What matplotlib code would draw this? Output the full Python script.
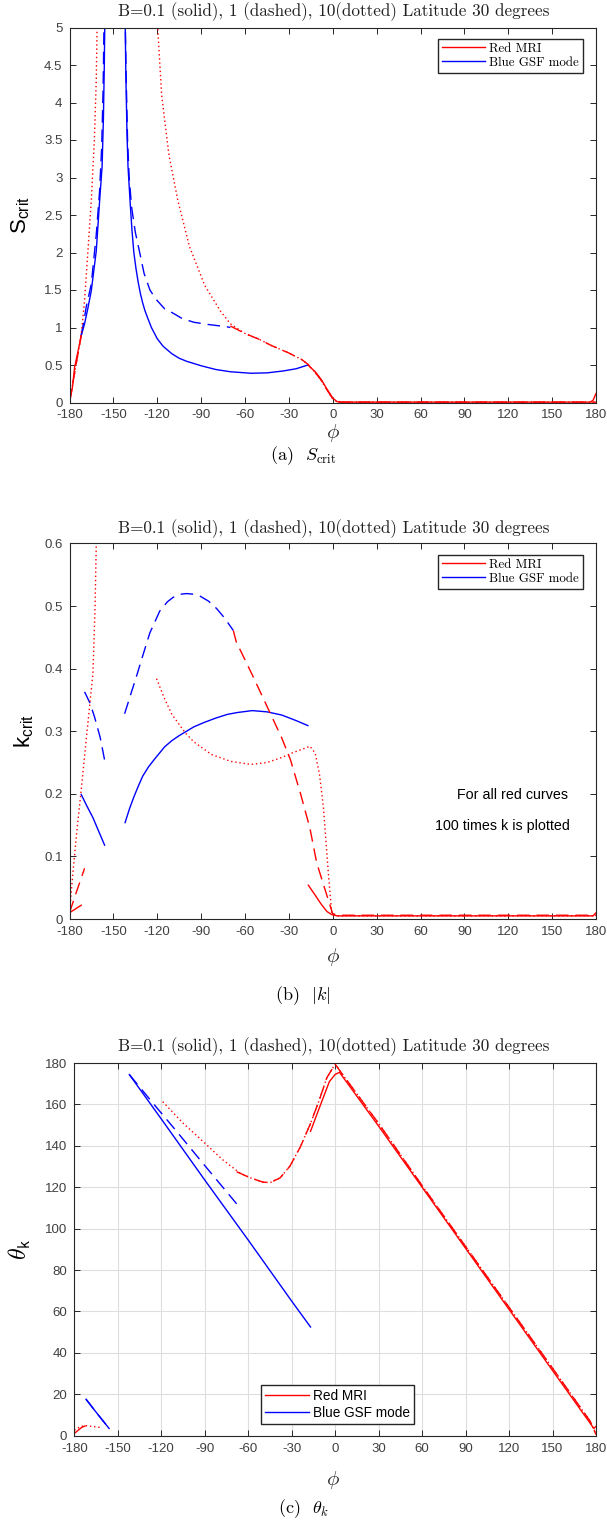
import matplotlib
matplotlib.use("Agg")
import matplotlib.pyplot as plt
import numpy as np

plt.rcParams['mathtext.fontset'] = 'cm'
plt.rcParams['mathtext.rm'] = 'Liberation Sans'
plt.rcParams['mathtext.it'] = 'Liberation Sans:italic'
plt.rcParams['mathtext.sf'] = 'Liberation Sans'

# ---------------- panel (a): S_crit ----------------
s_red_solid_a_phi = [-180, -178, -176.5, -174, -172]
s_red_solid_a_val = [0.0, 0.2, 0.47, 0.7, 0.88]
s_red_solid_b_phi = [-17, -12, -8, -4, 0, 3, 6, 60, 120, 176, 178, 180]
s_red_solid_b_val = [0.5, 0.41, 0.31, 0.18, 0.06, 0.01, 0.005, 0.005, 0.005, 0.005, 0.03, 0.12]
s_blue_solid_a_phi = [-172, -169.7, -167.5, -165.1, -161.7, -159.4, -157.7, -156.8, -156.2, -155.8]
s_blue_solid_a_val = [0.89, 1.05, 1.25, 1.49, 2.02, 2.69, 3.15, 3.8, 4.5, 5.2]
s_blue_solid_b_phi = [-142, -141.5, -140.7, -140, -138.6, -137.3, -136, -134.5, -133, -131.5,
                      -130, -128.5, -127, -124, -120, -116, -110, -105, -100, -90, -80, -70,
                      -56, -45, -34, -25, -17]
s_blue_solid_b_val = [5.2, 4.4, 3.6, 3.15, 2.69, 2.3, 2.0, 1.78, 1.6, 1.45,
                      1.33, 1.23, 1.15, 1.0, 0.85, 0.75, 0.65, 0.59, 0.55, 0.49, 0.44, 0.41,
                      0.39, 0.395, 0.42, 0.45, 0.5]
s_blue_dash_a_phi = [-172, -170, -168.6, -165.1, -161.7, -159.5, -158, -157, -156.3]
s_blue_dash_a_val = [0.9, 1.1, 1.27, 1.58, 2.24, 2.8, 3.4, 4.2, 5.2]
s_blue_dash_b_phi = [-142, -141.2, -140.3, -139.2, -137.5, -135, -132, -129, -125, -121, -115,
                     -110, -103, -95, -85, -72.6, -70]
s_blue_dash_b_val = [5.2, 4.3, 3.5, 3.0, 2.6, 2.27, 2.0, 1.72, 1.5, 1.38, 1.25,
                     1.2, 1.12, 1.07, 1.04, 1.01, 1.0]
s_red_dash_a_phi = [-180, -176, -172]
s_red_dash_a_val = [0.0, 0.45, 0.9]
s_red_dash_b_phi = [-70, -65, -60, -50, -42, -30, -21, -17, -12, -8, -4, 0, 3, 6, 180]
s_red_dash_b_val = [1.02, 0.97, 0.92, 0.84, 0.76, 0.66, 0.57, 0.51, 0.4, 0.3, 0.17, 0.05, 0.01, 0.005, 0.005]
s_red_dot_a_phi = [-180, -176, -172, -169.7, -167.4, -165.1, -163, -161.7, -161]
s_red_dot_a_val = [0.0, 0.45, 0.9, 1.36, 2.02, 2.69, 3.5, 4.3, 5.2]
s_red_dot_b_phi = [-120.3, -117, -112, -106, -98, -87.5, -76.5, -70, -60, -50, -42, -30, -21,
                   -17, -12, -8, -4, 0, 3, 6, 180]
s_red_dot_b_val = [5.2, 4.1, 3.3, 2.7, 2.08, 1.56, 1.21, 1.05, 0.92, 0.84, 0.76, 0.66, 0.57,
                   0.51, 0.4, 0.3, 0.17, 0.05, 0.01, 0.005, 0.005]

# ---------------- panel (b): k_crit ----------------
k_red_solid_a_phi = [-180, -176, -172]
k_red_solid_a_val = [0.01, 0.016, 0.022]
k_red_solid_b_phi = [-16.7, -12, -8, -4, -0.7, 3, 60, 120, 178, 180]
k_red_solid_b_val = [0.054, 0.038, 0.024, 0.012, 0.007, 0.005, 0.005, 0.005, 0.005, 0.01]
k_red_dash_a_phi = [-180, -175, -169.7]
k_red_dash_a_val = [0.01, 0.045, 0.081]
k_red_dash_b_phi = [-68, -66, -55, -42, -35, -29, -22, -15.6, -11, -5, 0, 5, 180]
k_red_dash_b_val = [0.461, 0.443, 0.39, 0.325, 0.29, 0.255, 0.2, 0.145, 0.09, 0.045, 0.008, 0.006, 0.006]
k_red_dot_a_phi = [-180, -177.7, -175, -172, -168, -164, -162.5, -161.7, -161.3]
k_red_dot_a_val = [0.009, 0.073, 0.14, 0.206, 0.3, 0.392, 0.5, 0.6, 0.65]
k_red_dot_b_phi = [-120.5, -115, -110, -101, -95, -83, -70, -56, -45, -35, -27, -20, -15.6,
                   -12, -9, -6.4, -4.5, -3, -0.7, 3, 180]
k_red_dot_b_val = [0.384, 0.352, 0.327, 0.298, 0.283, 0.263, 0.252, 0.247, 0.25, 0.258, 0.266,
                   0.272, 0.276, 0.265, 0.23, 0.179, 0.12, 0.073, 0.009, 0.005, 0.005]
k_blue_solid_a_phi = [-172, -168, -164, -160, -156]
k_blue_solid_a_val = [0.199, 0.18, 0.162, 0.14, 0.118]
k_blue_solid_b_phi = [-142, -139, -136, -133, -130, -126, -122, -115, -110, -105, -100, -95,
                      -88, -80, -72, -65, -55, -45, -35, -25, -17]
k_blue_solid_b_val = [0.154, 0.176, 0.195, 0.212, 0.228, 0.243, 0.255, 0.275, 0.285, 0.293,
                      0.3, 0.307, 0.314, 0.321, 0.327, 0.33, 0.333, 0.331, 0.326, 0.317, 0.309]
k_blue_dash_a_phi = [-169.7, -166, -162.9, -159, -156]
k_blue_dash_a_val = [0.363, 0.345, 0.323, 0.29, 0.254]
k_blue_dash_b_phi = [-142.3, -138, -134.3, -130, -125.1, -121, -118.3, -113, -109.1, -104,
                     -100, -95, -90.8, -85, -79.4, -74, -68]
k_blue_dash_b_val = [0.328, 0.36, 0.387, 0.42, 0.457, 0.478, 0.492, 0.507, 0.514, 0.519,
                     0.52, 0.519, 0.516, 0.508, 0.496, 0.481, 0.461]

# ---------------- panel (c): theta_k ----------------
t_blue_solid_a_phi = [-171.9, -164, -156]
t_blue_solid_a_val = [17.6, 10.5, 3.5]
t_blue_solid_b_phi = [-142, -120, -90, -60, -30, -17]
t_blue_solid_b_val = [174.4, 153, 123.5, 94.5, 65, 52.5]
t_blue_dash_a_phi = [-171.9, -164, -156]
t_blue_dash_a_val = [17.6, 10.5, 3.5]
t_blue_dash_b_phi = [-142, -125, -110, -90, -68]
t_blue_dash_b_val = [174.4, 160, 147.5, 130.5, 112]
t_red_solid_a_phi = [-180, -177, -174.9, -172.6]
t_red_solid_a_val = [1.1, 2.8, 4.0, 4.7]
t_red_solid_b_phi = [-17, -10, -4, 0, 3, 30, 60, 90, 120, 150, 177, 178.5, 180]
t_red_solid_b_val = [147, 160, 171, 174.5, 175.5, 149.5, 120, 90.5, 61, 31.5, 5, 3.5, 4.5]
t_red_dash_phi = [-68, -58.8, -50, -45, -38, -31.2, -24, -17.3, -11, -5.8, 0, 3, 30, 60,
                  90, 120, 150, 176, 178, 180]
t_red_dash_val = [127.5, 124.6, 122.5, 122.2, 124.5, 130.2, 139.5, 150.3, 162, 172.8, 179.5,
                  176.5, 150.8, 120.8, 91.4, 62, 32.6, 7, 4, 0.5]
t_red_dot_a_phi = [-180, -176, -172.6, -168, -162.2]
t_red_dot_a_val = [2.7, 4.3, 4.9, 4.5, 4.0]
t_red_dot_b_phi = [-119, -105, -91, -78, -66, -58.8, -50, -45, -38, -31.2, -24, -17.3, -11,
                   -5.8, 0, 3, 30, 60, 90, 120, 150, 176, 178, 180]
t_red_dot_b_val = [161.3, 151, 142, 133.5, 127, 124.6, 122.5, 122.2, 124.5, 130.2, 139.5,
                   150.3, 162, 172.8, 179.5, 176.5, 150.8, 120.8, 91.4, 62, 32.6, 7, 4, 0.5]

xticks = np.arange(-180, 181, 30)
title = "B=0.1 (solid), 1 (dashed), 10(dotted) Latitude 30 degrees"

RED = '#ff0000'
BLUE = '#0000ff'
DASH = (0, (9, 5))
DOT = (0, (1, 2))
LW = 1.0
INK = '#262626'

W, H = 607, 1526
fig = plt.figure(figsize=(W / 100, H / 100), dpi=100)


def px_axes(left, top, right, bottom):
    return fig.add_axes([left / W, 1 - bottom / H, (right - left) / W, (bottom - top) / H])


def ftext(x, y, s, **kw):
    fig.text(x / W, 1 - y / H, s, ha='center', va='center', **kw)


def style(ax, ylim, yticks, ylabels):
    ax.set_xlim(-180, 180)
    ax.set_ylim(*ylim)
    ax.set_xticks(xticks)
    ax.set_xticklabels([str(t) for t in xticks])
    ax.set_yticks(yticks)
    ax.set_yticklabels(ylabels)
    ax.tick_params(direction='in', length=4, width=0.7, top=True, right=True,
                   colors=INK, labelcolor='#404040', labelsize=9.5, pad=5)
    for lab in ax.get_xticklabels() + ax.get_yticklabels():
        lab.set_fontfamily('Liberation Sans')
    for sp in ax.spines.values():
        sp.set_color(INK)
        sp.set_linewidth(0.8)


def seg(ax, phi, val, color, ls, label=None):
    ax.plot(phi, val, color=color, linestyle=ls, linewidth=LW, label=label)


def serif_legend(ax):
    ax.legend(loc='upper right', bbox_to_anchor=(0.975, 0.97),
              prop={'family': 'cmr10', 'size': 9.3}, fancybox=False,
              edgecolor=INK, framealpha=1, handlelength=3.3, borderpad=0.3,
              labelspacing=0.15, handletextpad=0.35, borderaxespad=0)


# ---- panel (a)
ax1 = px_axes(69.5, 27.5, 596, 402.5)
seg(ax1, s_red_solid_a_phi, s_red_solid_a_val, RED, '-', 'Red MRI')
seg(ax1, s_red_solid_b_phi, s_red_solid_b_val, RED, '-')
seg(ax1, s_blue_solid_a_phi, s_blue_solid_a_val, BLUE, '-', 'Blue GSF mode')
seg(ax1, s_blue_solid_b_phi, s_blue_solid_b_val, BLUE, '-')
seg(ax1, s_blue_dash_a_phi, s_blue_dash_a_val, BLUE, DASH)
seg(ax1, s_blue_dash_b_phi, s_blue_dash_b_val, BLUE, DASH)
seg(ax1, s_red_dash_a_phi, s_red_dash_a_val, RED, DASH)
seg(ax1, s_red_dash_b_phi, s_red_dash_b_val, RED, DASH)
seg(ax1, s_red_dot_a_phi, s_red_dot_a_val, RED, DOT)
seg(ax1, s_red_dot_b_phi, s_red_dot_b_val, RED, DOT)
yt = np.arange(0, 5.01, 0.5)
style(ax1, (0, 5), yt, ['0', '0.5', '1', '1.5', '2', '2.5', '3', '3.5', '4', '4.5', '5'])
ax1.set_ylabel(r'S$_{\mathrm{crit}}$', fontsize=16, fontfamily='Liberation Sans',
               math_fontfamily='custom', labelpad=9)
serif_legend(ax1)

# ---- panel (b)
ax2 = px_axes(69.5, 543.5, 596, 919)
seg(ax2, k_red_solid_a_phi, k_red_solid_a_val, RED, '-', 'Red MRI')
seg(ax2, k_red_solid_b_phi, k_red_solid_b_val, RED, '-')
seg(ax2, k_blue_solid_a_phi, k_blue_solid_a_val, BLUE, '-', 'Blue GSF mode')
seg(ax2, k_blue_solid_b_phi, k_blue_solid_b_val, BLUE, '-')
seg(ax2, k_blue_dash_a_phi, k_blue_dash_a_val, BLUE, DASH)
seg(ax2, k_blue_dash_b_phi, k_blue_dash_b_val, BLUE, DASH)
seg(ax2, k_red_dash_a_phi, k_red_dash_a_val, RED, DASH)
seg(ax2, k_red_dash_b_phi, k_red_dash_b_val, RED, DASH)
seg(ax2, k_red_dot_a_phi, k_red_dot_a_val, RED, DOT)
seg(ax2, k_red_dot_b_phi, k_red_dot_b_val, RED, DOT)
yt = np.arange(0, 0.61, 0.1)
style(ax2, (0, 0.6), yt, ['0', '0.1', '0.2', '0.3', '0.4', '0.5', '0.6'])
ax2.set_ylabel(r'k$_{\mathrm{crit}}$', fontsize=16, fontfamily='Liberation Sans',
               math_fontfamily='custom', labelpad=6)
serif_legend(ax2)
ax2.text(123, 0.198, 'For all red curves', ha='center', va='center',
         fontfamily='Liberation Sans', fontsize=10.3)
ax2.text(116, 0.149, '100 times k is plotted', ha='center', va='center',
         fontfamily='Liberation Sans', fontsize=10.3)

# ---- panel (c)
ax3 = px_axes(74.3, 1063, 596, 1435.7)
ax3.grid(True, color='#dedede', linewidth=0.8)
ax3.set_axisbelow(True)
seg(ax3, t_red_solid_a_phi, t_red_solid_a_val, RED, '-', 'Red MRI')
seg(ax3, t_red_solid_b_phi, t_red_solid_b_val, RED, '-')
seg(ax3, t_blue_solid_a_phi, t_blue_solid_a_val, BLUE, '-', 'Blue GSF mode')
seg(ax3, t_blue_solid_b_phi, t_blue_solid_b_val, BLUE, '-')
seg(ax3, t_blue_dash_a_phi, t_blue_dash_a_val, BLUE, DASH)
seg(ax3, t_blue_dash_b_phi, t_blue_dash_b_val, BLUE, DASH)
seg(ax3, t_red_dash_phi, t_red_dash_val, RED, DASH)
seg(ax3, t_red_dot_a_phi, t_red_dot_a_val, RED, DOT)
seg(ax3, t_red_dot_b_phi, t_red_dot_b_val, RED, DOT)
yt = np.arange(0, 181, 20)
style(ax3, (0, 180), yt, [str(v) for v in yt])
ax3.set_ylabel(r'$\theta_{\mathsf{k}}$', fontsize=17, math_fontfamily='cm', labelpad=9)
ax3.legend(loc='lower left', bbox_to_anchor=(0.358, 0.032),
           prop={'family': 'Liberation Sans', 'size': 9.8}, fancybox=False,
           edgecolor=INK, framealpha=1, handlelength=3.2, borderpad=0.3,
           labelspacing=0.2, handletextpad=0.3, borderaxespad=0)

# titles, x labels and captions
for ypx in (12, 529, 1047):
    ftext(333.5, ypx, title, fontfamily='cmr10', fontsize=12.3, color='#202020')
for ypx in (433, 957, 1480):
    ftext(333, ypx, r'$\phi$', fontsize=15, math_fontfamily='cm', color='#303030')
ftext(303, 456, r'(a)  $S_{\rm crit}$', fontfamily='cmr10', fontsize=13, math_fontfamily='cm')
ftext(303, 996, r'(b)  $|k|$', fontfamily='cmr10', fontsize=13, math_fontfamily='cm')
ftext(303, 1509, r'(c)  $\theta_k$', fontfamily='cmr10', fontsize=13, math_fontfamily='cm')

fig.savefig('out.png', dpi=100)
